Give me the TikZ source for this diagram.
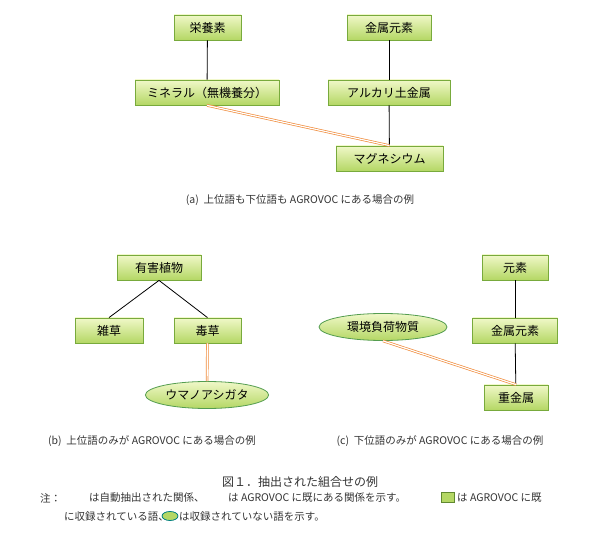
\documentclass[tikz,border=0pt]{standalone}
\usepackage{fontspec}
\newfontfamily\jp{Noto Sans CJK JP}
\usetikzlibrary{shapes.geometric}
\definecolor{bord}{RGB}{120,170,60}
\definecolor{topc}{RGB}{240,248,200}
\definecolor{botc}{RGB}{180,215,100}
\definecolor{orl}{RGB}{240,140,60}
\tikzset{x=1pt,y=-1pt,
 term/.style={draw=bord,line width=0.8pt,top color=topc,bottom color=botc,minimum height=25pt,inner xsep=5pt,font=\jp\fontsize{12}{12}\selectfont},
 nterm/.style={ellipse,draw=bord!70!teal,line width=0.8pt,top color=topc,bottom color=botc,minimum height=27pt,inner xsep=2pt,font=\jp\fontsize{12}{12}\selectfont},
 isa/.style={black,line width=0.8pt},
 autorel/.style={draw=orl,double=white,double distance=1.2pt,line width=0.7pt},
 captxt/.style={font=\jp\fontsize{10.5}{11}\selectfont,text=black!80},
 legtxt/.style={captxt,anchor=west,inner sep=0pt}}
\begin{document}
\begin{tikzpicture}
\useasboundingbox (0,0) rectangle (600,553);
\node[term,minimum width=67pt] (a1) at (207.5,27.5) {栄養素};
\node[term,minimum width=84pt] (a2) at (389,27.5) {金属元素};
\node[term,minimum width=144pt] (a3) at (207,92.5) {ミネラル（無機養分）};
\node[term,minimum width=122pt] (a4) at (389,92.5) {アルカリ土金属};
\node[term,minimum width=107pt] (a5) at (389.5,158.5) {マグネシウム};
\draw[isa] (a1) -- (a3);
\draw[isa] (a2) -- (a4);
\draw[isa] (a4) -- (a5);
\draw[autorel] (a3.south) -- (a5.north);
\node[captxt] (ca) at (300,200) {(a)\ \ 上位語も下位語も AGROVOC にある場合の例};
\node[term,minimum width=84pt] (b1) at (159,267.5) {有害植物};
\node[term,minimum width=68pt] (b2) at (109,330.5) {雑草};
\node[term,minimum width=67pt] (b3) at (207.5,330.5) {毒草};
\node[nterm,minimum width=122pt] (b4) at (207,395) {ウマノアシガタ};
\draw[isa] (b1.south) -- (b2.north);
\draw[isa] (b1.south) -- (b3.north);
\draw[autorel] (b3) -- (b4);
\node[term,minimum width=66pt] (c1) at (515,267.5) {元素};
\node[term,minimum width=85pt] (c2) at (515,330.5) {金属元素};
\node[nterm,minimum width=128pt] (c3) at (383,327) {環境負荷物質};
\node[term,minimum width=64pt] (c4) at (516,397.5) {重金属};
\draw[isa] (c1) -- (c2);
\draw[isa] (c2) -- (c4);
\draw[autorel] (c3.south) -- (c4.north);
\node[captxt] (cb) at (152,441) {(b)\ \ 上位語のみが AGROVOC にある場合の例};
\node[captxt] (cc) at (440,441) {(c)\ \ 下位語のみが AGROVOC にある場合の例};
\node[captxt,font=\jp\fontsize{12}{12}\selectfont] (t) at (300,482) {図１．抽出された組合せの例};
\node[legtxt] (n0) at (40,498) {注：};
\node[legtxt] (n1) at (89,498) {は自動抽出された関係、};
\node[legtxt] (n2) at (228,498) {は AGROVOC に既にある関係を示す。};
\node[legtxt] (n3) at (457,498) {は AGROVOC に既};
\node[legtxt] (n4) at (64,517) {に収録されている語、};
\node[legtxt] (n5) at (179,517) {は収録されていない語を示す。};
\coordinate (l1) at (63,498); \coordinate (l2) at (88,498);
\draw[autorel] (l1) -- (l2);
\node[draw=bord!80!black,line width=0.8pt,fill=botc,minimum width=13pt,minimum height=10pt,inner sep=0pt] (lb) at (448,497) {};
\node[ellipse,draw=teal,line width=0.8pt,fill=botc,minimum width=16pt,minimum height=9pt,inner sep=0pt] (le) at (170,516) {};
\end{tikzpicture}
\end{document}
